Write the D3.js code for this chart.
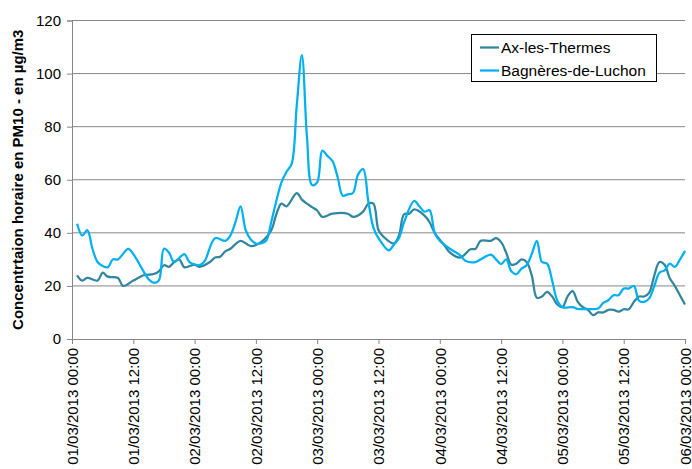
<!DOCTYPE html>
<html>
<head>
<meta charset="utf-8">
<script src="https://cdn.jsdelivr.net/npm/d3@7"></script>
<style>
    body { margin: 0; background: #fff; }
    svg { font-family: "Liberation Sans", Arial, sans-serif; }
</style>
</head>
<body>
<svg id="chart" width="692" height="469"></svg>
<script>
// Séries (heures depuis le 01/03/2013 00:00, valeurs en µg/m3)
const seriesNames = ["Ax-les-Thermes", "Bagnères-de-Luchon"];

const axHours = [1, 2, 3, 5, 6, 7, 9, 10, 12, 14, 16, 17, 18, 19, 20, 21, 22, 24, 25, 27, 28, 29, 30, 31, 33, 35, 37, 39, 40, 41, 42, 44, 45, 46, 47, 48, 49, 51, 54, 55, 57, 58, 59, 60, 61, 63, 64, 65, 66, 67, 69, 70, 71, 73, 74, 76, 78, 79, 80, 82, 83, 84, 85, 86, 87, 88, 89, 90, 91, 92, 93, 94, 95, 96, 97, 98, 99, 100, 101, 102, 103, 104, 105, 106, 107, 108, 109, 110, 111, 112, 113, 114, 115, 116, 117, 118, 119, 120];
const axValues = [24, 22, 23, 22, 25, 23.5, 23, 20, 22, 24, 24.5, 25.5, 27.8, 27.2, 29, 30, 27, 28, 27.2, 29, 30.7, 31, 33, 34, 37, 35, 36.5, 41, 47, 51, 50, 55, 52.5, 51, 49.7, 48.4, 46, 47.2, 47.2, 46, 48, 51, 51, 41, 38.5, 36, 39, 47, 47.2, 48.8, 46.5, 44, 40, 35, 32.5, 30.7, 33.8, 34, 37, 37, 38, 36.5, 32.5, 28, 28.4, 30, 29, 24, 15.5, 16, 17.8, 16, 13, 12, 16, 18, 14, 12, 11, 9, 10, 10, 11, 11, 10.3, 11.2, 11.2, 14, 16, 16, 17.5, 24, 29, 28, 23, 20, 16.5, 13];

const luHours = [1, 2, 3, 4, 5, 6, 7, 8, 9, 11, 12, 14, 15, 16, 17, 18, 19, 20, 22, 23, 25, 26, 28, 30, 31, 32, 33, 34, 35, 36, 37, 38, 39, 40, 41, 42, 43, 44, 45, 46, 47, 48, 49, 50, 51, 52, 53, 54, 55, 56, 57, 58, 59, 60, 62, 63, 64, 65, 67, 68, 69, 70, 71, 72, 74, 75, 76, 77, 79, 80, 82, 83, 84, 85, 86, 87, 88, 89, 90, 91, 92, 93, 94, 95, 96, 98, 99, 101, 103, 104, 105, 106, 107, 108, 109, 110, 111, 112, 113, 114, 115, 116, 117, 118, 119, 120];
const luValues = [43.4, 39, 41, 34, 29, 27.5, 27, 30, 30, 34, 32, 25.5, 22.5, 21.2, 22, 34, 32.5, 29, 32, 29, 27.8, 29.5, 38, 37, 39, 44, 50, 41, 37.5, 36, 36, 37, 44, 52, 59, 63, 66, 88, 107, 76, 58, 59, 71, 69, 67, 61, 54, 54.5, 55, 62, 64, 52, 42, 38, 33.4, 35.5, 38, 44, 52, 50, 48, 48.5, 40, 37, 34, 32.8, 31.5, 29.5, 29, 30, 31.8, 30, 28.2, 30, 25.5, 24.4, 26.5, 27.8, 32, 37, 29, 28.4, 22, 14.5, 12, 12, 11.3, 11.3, 11.5, 13.6, 14.6, 16.5, 16.5, 19, 19, 20, 14.4, 14, 15.3, 20, 25, 25.9, 28.4, 27.2, 29.9, 33.2];

const yTicks = [0, 20, 40, 60, 80, 100, 120];
const yTitle = "Concentrtaion horaire en PM10 - en µg/m3";
const colors = ["#31859C", "#00B0F0"];

const start = new Date(2013, 2, 1, 0, 0);
const end = new Date(2013, 2, 6, 0, 0);

const svg = d3.select("#chart");
const margin = { left: 72, right: 7, top: 20.5, bottom: 130 };
const width = 692, height = 469;

const x = d3.scaleTime()
    .domain([start, end])
    .range([margin.left, width - margin.right]);

const y = d3.scaleLinear()
    .domain([0, 120])
    .range([height - margin.bottom, margin.top]);

const grid = "#868686";

// Grille horizontale
svg.append("g")
    .selectAll("line")
    .data(yTicks.filter(d => d > 0))
    .enter()
    .append("line")
    .attr("x1", x.range()[0])
    .attr("x2", x.range()[1])
    .attr("y1", d => y(d))
    .attr("y2", d => y(d))
    .attr("stroke", grid)
    .attr("stroke-width", 1);

// Axe Y
const yAxis = svg.append("g")
    .attr("transform", `translate(${x.range()[0]},0)`)
    .call(d3.axisLeft(y).tickValues(yTicks).tickSize(5).tickPadding(6));
yAxis.select(".domain").attr("stroke", grid);
yAxis.selectAll(".tick line").attr("stroke", grid);
yAxis.selectAll("text")
    .attr("font-size", 15)
    .attr("font-family", "Liberation Sans, Arial, sans-serif")
    .attr("fill", "#000");

// Axe X
const xTicks = d3.timeHour.every(12).range(start, d3.timeHour.offset(end, 1));
const fmt = d3.timeFormat("%d/%m/%Y %H:%M");
const xAxis = svg.append("g")
    .attr("transform", `translate(0,${y(0)})`)
    .call(d3.axisBottom(x).tickValues(xTicks).tickSize(5).tickFormat(fmt));
xAxis.select(".domain").attr("stroke", grid);
xAxis.selectAll(".tick line").attr("stroke", grid);
xAxis.selectAll("text")
    .attr("font-size", 15)
    .attr("font-family", "Liberation Sans, Arial, sans-serif")
    .attr("fill", "#000")
    .attr("text-anchor", "end")
    .attr("transform", "rotate(-90)")
    .attr("x", -9)
    .attr("y", 0)
    .attr("dy", "0.35em");

// Titre de l'axe Y
svg.append("text")
    .attr("transform", `translate(23,${(y(0) + y(120)) / 2}) rotate(-90)`)
    .attr("text-anchor", "middle")
    .attr("font-size", 15)
    .attr("font-weight", "bold")
    .text(yTitle);

// Courbes
const line = d3.line()
    .x(d => x(d3.timeHour.offset(start, d.h)))
    .y(d => y(d.v))
    .curve(d3.curveCatmullRom.alpha(0.5));

const series = [
    axHours.map((h, i) => ({ h: h, v: axValues[i] })),
    luHours.map((h, i) => ({ h: h, v: luValues[i] }))
];

series.forEach((s, i) => {
    svg.append("path")
        .datum(s)
        .attr("fill", "none")
        .attr("stroke", colors[i])
        .attr("stroke-width", 2.25)
        .attr("stroke-linejoin", "round")
        .attr("d", line);
});

// Légende
const legend = svg.append("g").attr("transform", "translate(471,34)");
legend.append("rect")
    .attr("x", 0.5)
    .attr("y", 0.5)
    .attr("width", 185)
    .attr("height", 47)
    .attr("fill", "#fff")
    .attr("stroke", "#000");

seriesNames.forEach((name, i) => {
    const ly = 13.5 + i * 23;
    legend.append("line")
        .attr("x1", 9)
        .attr("x2", 28)
        .attr("y1", ly)
        .attr("y2", ly)
        .attr("stroke", colors[i])
        .attr("stroke-width", 2.25);
    legend.append("text")
        .attr("x", 30)
        .attr("y", ly)
        .attr("dy", "0.35em")
        .attr("font-size", 15.5)
        .text(name);
});
</script>
</body>
</html>
